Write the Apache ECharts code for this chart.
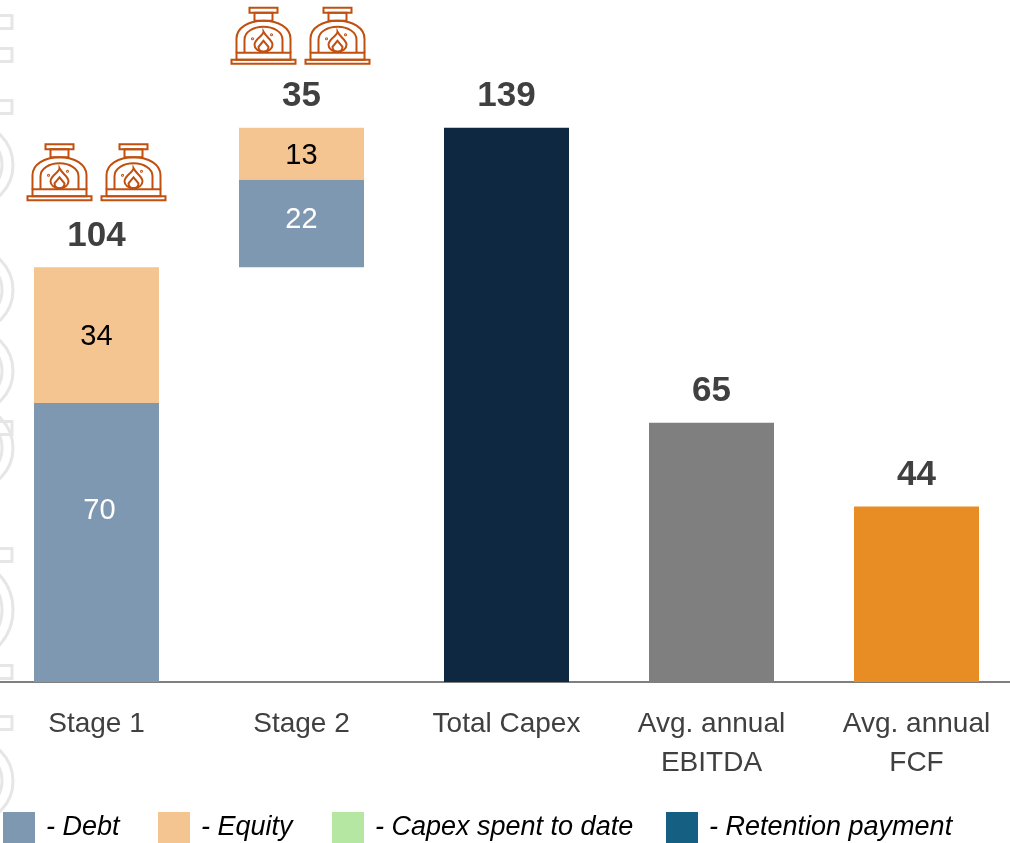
<!DOCTYPE html>
<html>
<head>
<meta charset="utf-8">
<style>
  html, body { margin: 0; padding: 0; background: #fff; }
  #main { width: 1010px; height: 843px; }
</style>
<script src="https://cdn.jsdelivr.net/npm/echarts@6/dist/echarts.min.js"></script>
</head>
<body>
<div id="main"></div>
<script>
const categories = ['Stage 1', 'Stage 2', 'Total Capex', 'Avg. annual\nEBITDA', 'Avg. annual\nFCF']
// Stage 2 sits on top of stage 1, so it needs an invisible base
const baseValues = [0, 104, 0, 0, 0]
const debtValues = [70, 22, null, null, null]
const equityValues = [34, 13, null, null, null]
const soloValues = [null, null, 139, 65, 44]
const totalLabels = [104, 35, 139, 65, 44]
const ovenCounts = [2, 2, 0, 0, 0]
const soloColors = ['#0E2841', '#7F7F7F', '#E88C24']

const textColor = '#404040'
const ovenColor = '#C0500F'
const labelFont = '"Liberation Sans", sans-serif'

// path helper, the bbox is the one the path is really drawn in
const ovenPath = (pathData, x, y, width, height) => ({
  type: 'path',
  shape: {pathData, layout: 'cover', x, y, width, height}
})

// one oven drawn around (0,0) = bottom centre, size about 66x58
const ovenChildren = (dx) => {
  const line = {stroke: ovenColor, fill: null, lineWidth: 2}
  const shapes = [
    {type: 'rect', shape: {x: -32, y: -5, width: 64, height: 4}},
    {type: 'rect', shape: {x: -27, y: -12, width: 54, height: 7}},
    ovenPath('M-27 -12 V-26 C-27 -37 -15 -44 0 -44 C15 -44 27 -37 27 -26 V-12', -27, -44, 54, 32),
    ovenPath('M-19 -12 V-25 C-19 -33 -10 -38 0 -38 C10 -38 19 -33 19 -25 V-12', -19, -38, 38, 26),
    {type: 'rect', shape: {x: -9, y: -52, width: 18, height: 8}},
    {type: 'rect', shape: {x: -14, y: -57, width: 28, height: 5}},
    ovenPath('M0 -33 C0 -29 -9 -26 -9 -20 C-9 -16 -5 -13 0 -13 C5 -13 9 -16 9 -20 C9 -25 3 -27 0 -33 Z', -9, -33, 18, 20),
    ovenPath('M0 -24 L-5 -18 C-5 -15 -3 -13 0 -13 C3 -13 5 -15 5 -18 Z', -5, -24, 10, 11),
    {type: 'circle', shape: {cx: -11, cy: -26, r: 0.5}},
    {type: 'circle', shape: {cx: 8, cy: -30, r: 0.5}}
  ]
  return shapes.map(s => ({...s, x: dx, style: line}))
}

const chart = echarts.init(document.getElementById('main'), null, {renderer: 'canvas'})

const legendItem = (name, left) => ({
  left,
  bottom: 0,
  data: [name],
  orient: 'horizontal',
  icon: 'rect',
  itemWidth: 32,
  itemHeight: 31,
  itemGap: 0,
  padding: 0,
  selectedMode: false,
  formatter: '- {name}',
  textStyle: {
    color: '#000',
    fontFamily: labelFont,
    fontStyle: 'italic',
    fontSize: 27,
    padding: [4, 0, 0, 6]
  }
})

// the faint watermark shapes along the left edge of the slide
const mark = {stroke: '#E6E6E6', fill: null, lineWidth: 3}
const markRects = [14, 47, 99, 420, 547, 664, 715].map(y => ({
  type: 'rect', silent: true, z: -1,
  shape: {x: -4, y: y + 1.5, width: 16, height: 13}, style: mark
}))
const markRings = [[165, 42], [290, 42], [371, 42], [448, 42], [610, 52], [781, 42]].flatMap(([cy, r]) => [
  {type: 'circle', silent: true, z: -1, shape: {cx: 13 - r, cy, r}, style: mark},
  {type: 'circle', silent: true, z: -1, shape: {cx: 13 - r, cy, r: r - 11}, style: mark}
])

chart.setOption({
  animation: false,
  backgroundColor: '#fff',
  graphic: [...markRects, ...markRings],
  legend: [
    legendItem('Debt', 3),
    legendItem('Equity', 158),
    legendItem('Capex spent to date', 332),
    legendItem('Retention payment', 666)
  ],
  grid: {left: -6, width: 1025, top: 44, height: 638, outerBoundsMode: 'none'},
  xAxis: {
    type: 'category',
    data: categories,
    axisTick: {show: false},
    axisLine: {lineStyle: {color: '#7F7F7F', width: 2}},
    axisLabel: {
      color: textColor,
      fontFamily: labelFont,
      fontSize: 28,
      lineHeight: 39,
      margin: 23,
      interval: 0
    }
  },
  yAxis: {type: 'value', min: 0, max: 160, show: false},
  series: [
    {
      name: 'base', type: 'bar', stack: 'capex', barWidth: 125, data: baseValues,
      itemStyle: {color: 'transparent'}, silent: true
    },
    {
      name: 'Debt', type: 'bar', stack: 'capex',
      // the labels of the debt blocks sit above the middle in the original
      data: debtValues.map((v, i) => ({
        value: v,
        label: {offset: i === 0 ? [3, -31] : [0, -3]}
      })),
      itemStyle: {color: '#7F98B2'},
      label: {show: true, position: 'inside', color: '#fff', fontSize: 29, fontFamily: labelFont}
    },
    {
      name: 'Equity', type: 'bar', stack: 'capex', data: equityValues,
      itemStyle: {color: '#F4C590'},
      label: {show: true, position: 'inside', offset: [0, 2], color: '#000', fontSize: 29, fontFamily: labelFont}
    },
    {
      name: 'solo', type: 'bar', stack: 'capex',
      data: soloValues.map((v, i) => v === null ? null : {value: v, itemStyle: {color: soloColors[i - 2]}})
    },
    // empty series, they only exist for the legend
    {name: 'Capex spent to date', type: 'bar', stack: 'capex', data: [], itemStyle: {color: '#B5E6A2'}},
    {name: 'Retention payment', type: 'bar', stack: 'capex', data: [], itemStyle: {color: '#156082'}},
    {
      // bold totals and the oven icons above each stack
      name: 'totals', type: 'custom', silent: true, z: 5, clip: false,
      data: categories.map((c, i) => [i, baseValues[i] + totalLabels[i], totalLabels[i], ovenCounts[i]]),
      encode: {x: 0, y: 1},
      renderItem: (params, api) => {
        const p = api.coord([api.value(0), api.value(1)])
        const children = [{
          type: 'text',
          x: p[0],
          y: p[1] - 31,
          style: {
            text: String(api.value(2)),
            fill: textColor,
            font: 'bold 35px ' + labelFont,
            align: 'center',
            verticalAlign: 'middle'
          }
        }]
        if (api.value(3) > 0) {
          const first = params.dataIndex === 0
          const oven = {
            type: 'group',
            x: p[0] + (first ? 0 : -1),
            y: p[1] - (first ? 66 : 63),
            children: [...ovenChildren(-37), ...ovenChildren(37)]
          }
          children.push(oven)
        }
        return {type: 'group', children}
      }
    }
  ]
})
</script>
</body>
</html>
